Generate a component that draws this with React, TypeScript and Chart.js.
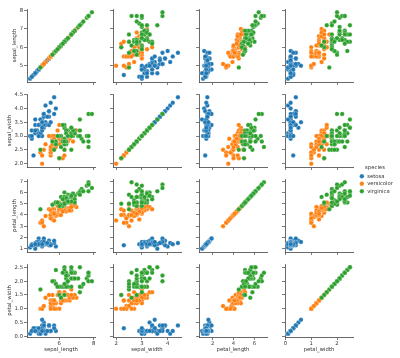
import React, { useEffect, useRef } from "react";
import { Chart, registerables } from "chart.js";
Chart.register(...registerables);

// ---------------- DATA ----------------
const speciesNames = ["setosa", "versicolor", "virginica"];
const speciesColors = ["#1f77b4", "#ff7f0e", "#2ca02c"];
const speciesCounts = [50, 50, 50];
const varNames = ["sepal_length", "sepal_width", "petal_length", "petal_width"];

const sepalLength = [
  5.1, 4.9, 4.7, 4.6, 5.0, 5.4, 4.6, 5.0, 4.4, 4.9, 5.4, 4.8, 4.8, 4.3, 5.8, 5.7, 5.4, 5.1, 5.7, 5.1,
  5.4, 5.1, 4.6, 5.1, 4.8, 5.0, 5.0, 5.2, 5.2, 4.7, 4.8, 5.4, 5.2, 5.5, 4.9, 5.0, 5.5, 4.9, 4.4, 5.1,
  5.0, 4.5, 4.4, 5.0, 5.1, 4.8, 5.1, 4.6, 5.3, 5.0,
  7.0, 6.4, 6.9, 5.5, 6.5, 5.7, 6.3, 4.9, 6.6, 5.2, 5.0, 5.9, 6.0, 6.1, 5.6, 6.7, 5.6, 5.8, 6.2, 5.6,
  5.9, 6.1, 6.3, 6.1, 6.4, 6.6, 6.8, 6.7, 6.0, 5.7, 5.5, 5.5, 5.8, 6.0, 5.4, 6.0, 6.7, 6.3, 5.6, 5.5,
  5.5, 6.1, 5.8, 5.0, 5.6, 5.7, 5.7, 6.2, 5.1, 5.7,
  6.3, 5.8, 7.1, 6.3, 6.5, 7.6, 4.9, 7.3, 6.7, 7.2, 6.5, 6.4, 6.8, 5.7, 5.8, 6.4, 6.5, 7.7, 7.7, 6.0,
  6.9, 5.6, 7.7, 6.3, 6.7, 7.2, 6.2, 6.1, 6.4, 7.2, 7.4, 7.9, 6.4, 6.3, 6.1, 7.7, 6.3, 6.4, 6.0, 6.9,
  6.7, 6.9, 5.8, 6.8, 6.7, 6.7, 6.3, 6.5, 6.2, 5.9,
];
const sepalWidth = [
  3.5, 3.0, 3.2, 3.1, 3.6, 3.9, 3.4, 3.4, 2.9, 3.1, 3.7, 3.4, 3.0, 3.0, 4.0, 4.4, 3.9, 3.5, 3.8, 3.8,
  3.4, 3.7, 3.6, 3.3, 3.4, 3.0, 3.4, 3.5, 3.4, 3.2, 3.1, 3.4, 4.1, 4.2, 3.1, 3.2, 3.5, 3.6, 3.0, 3.4,
  3.5, 2.3, 3.2, 3.5, 3.8, 3.0, 3.8, 3.2, 3.7, 3.3,
  3.2, 3.2, 3.1, 2.3, 2.8, 2.8, 3.3, 2.4, 2.9, 2.7, 2.0, 3.0, 2.2, 2.9, 2.9, 3.1, 3.0, 2.7, 2.2, 2.5,
  3.2, 2.8, 2.5, 2.8, 2.9, 3.0, 2.8, 3.0, 2.9, 2.6, 2.4, 2.4, 2.7, 2.7, 3.0, 3.4, 3.1, 2.3, 3.0, 2.5,
  2.6, 3.0, 2.6, 2.3, 2.7, 3.0, 2.9, 2.9, 2.5, 2.8,
  3.3, 2.7, 3.0, 2.9, 3.0, 3.0, 2.5, 2.9, 2.5, 3.6, 3.2, 2.7, 3.0, 2.5, 2.8, 3.2, 3.0, 3.8, 2.6, 2.2,
  3.2, 2.8, 2.8, 2.7, 3.3, 3.2, 2.8, 3.0, 2.8, 3.0, 2.8, 3.8, 2.8, 2.8, 2.6, 3.0, 3.4, 3.1, 3.0, 3.1,
  3.1, 3.1, 2.7, 3.2, 3.3, 3.0, 2.5, 3.0, 3.4, 3.0,
];
const petalLength = [
  1.4, 1.4, 1.3, 1.5, 1.4, 1.7, 1.4, 1.5, 1.4, 1.5, 1.5, 1.6, 1.4, 1.1, 1.2, 1.5, 1.3, 1.4, 1.7, 1.5,
  1.7, 1.5, 1.0, 1.7, 1.9, 1.6, 1.6, 1.5, 1.4, 1.6, 1.6, 1.5, 1.5, 1.4, 1.5, 1.2, 1.3, 1.4, 1.3, 1.5,
  1.3, 1.3, 1.3, 1.6, 1.9, 1.4, 1.6, 1.4, 1.5, 1.4,
  4.7, 4.5, 4.9, 4.0, 4.6, 4.5, 4.7, 3.3, 4.6, 3.9, 3.5, 4.2, 4.0, 4.7, 3.6, 4.4, 4.5, 4.1, 4.5, 3.9,
  4.8, 4.0, 4.9, 4.7, 4.3, 4.4, 4.8, 5.0, 4.5, 3.5, 3.8, 3.7, 3.9, 5.1, 4.5, 4.5, 4.7, 4.4, 4.1, 4.0,
  4.4, 4.6, 4.0, 3.3, 4.2, 4.2, 4.2, 4.3, 3.0, 4.1,
  6.0, 5.1, 5.9, 5.6, 5.8, 6.6, 4.5, 6.3, 5.8, 6.1, 5.1, 5.3, 5.5, 5.0, 5.1, 5.3, 5.5, 6.7, 6.9, 5.0,
  5.7, 4.9, 6.7, 4.9, 5.7, 6.0, 4.8, 4.9, 5.6, 5.8, 6.1, 6.4, 5.6, 5.1, 5.6, 6.1, 5.6, 5.5, 4.8, 5.4,
  5.6, 5.1, 5.1, 5.9, 5.7, 5.2, 5.0, 5.2, 5.4, 5.1,
];
const petalWidth = [
  0.2, 0.2, 0.2, 0.2, 0.2, 0.4, 0.3, 0.2, 0.2, 0.1, 0.2, 0.2, 0.1, 0.1, 0.2, 0.4, 0.4, 0.3, 0.3, 0.3,
  0.2, 0.4, 0.2, 0.5, 0.2, 0.2, 0.4, 0.2, 0.2, 0.2, 0.2, 0.4, 0.1, 0.2, 0.2, 0.2, 0.2, 0.1, 0.2, 0.2,
  0.3, 0.3, 0.2, 0.6, 0.4, 0.3, 0.2, 0.2, 0.2, 0.2,
  1.4, 1.5, 1.5, 1.3, 1.5, 1.3, 1.6, 1.0, 1.3, 1.4, 1.0, 1.5, 1.0, 1.4, 1.3, 1.4, 1.5, 1.0, 1.5, 1.1,
  1.8, 1.3, 1.5, 1.2, 1.3, 1.4, 1.4, 1.7, 1.5, 1.0, 1.1, 1.0, 1.2, 1.6, 1.5, 1.6, 1.5, 1.3, 1.3, 1.3,
  1.2, 1.4, 1.2, 1.0, 1.3, 1.2, 1.3, 1.3, 1.1, 1.3,
  2.5, 1.9, 2.1, 1.8, 2.2, 2.1, 1.7, 1.8, 1.8, 2.5, 2.0, 1.9, 2.1, 2.0, 2.4, 2.3, 1.8, 2.2, 2.3, 1.5,
  2.3, 2.0, 2.0, 1.8, 2.1, 1.8, 1.8, 1.8, 2.1, 1.6, 1.9, 2.0, 2.2, 1.5, 1.4, 2.3, 2.4, 1.8, 1.8, 2.1,
  2.4, 2.3, 1.9, 2.3, 2.5, 2.3, 1.9, 2.0, 2.3, 1.8,
];
const variables = [sepalLength, sepalWidth, petalLength, petalWidth];

// axis limits (data range + 5% margins) and tick labels
const axisMin = [4.12, 1.88, 0.705, -0.02];
const axisMax = [8.08, 4.52, 7.195, 2.62];
const yTickValues = [
  [5, 6, 7, 8],
  [2.0, 2.5, 3.0, 3.5, 4.0, 4.5],
  [1, 2, 3, 4, 5, 6, 7],
  [0.0, 0.5, 1.0, 1.5, 2.0, 2.5],
];
const yTickDecimals = [0, 1, 0, 1];
const xTickValues = [
  [6, 8],
  [2, 3, 4],
  [2, 4, 6],
  [0, 1, 2],
];

// ---------------- LAYOUT ----------------
const AX_LEFT0 = 27;
const AX_STEP_X = 86;
const AX_TOP0 = 9;
const AX_STEP_Y = 85;
const AX_W = 68;
const AX_H = 73;
const PAD_L = 27;
const PAD_T = 6;
const PAD_R = 6;
const PAD_B = 22;
const FONT = "'DejaVu Sans', sans-serif";
const TEXT_COLOR = "#333";
const SPINE_COLOR = "#444";

function Cell({ row, col }: { row: number; col: number }) {
  const ref = useRef<HTMLCanvasElement | null>(null);
  useEffect(() => {
    if (!ref.current) return;
    let start = 0;
    const n = speciesNames.length;
    const datasets = speciesNames.map((name, s) => {
      const pts: { x: number; y: number }[] = [];
      for (let i = start; i < start + speciesCounts[s]; i++) {
        pts.push({ x: variables[col][i], y: variables[row][i] });
      }
      start += speciesCounts[s];
      return {
        label: name,
        data: pts,
        order: n - 1 - s,
        backgroundColor: speciesColors[s],
        borderColor: "rgba(255,255,255,0.8)",
        borderWidth: 0.35,
        pointRadius: 2.25,
        pointHoverRadius: 2.25,
      };
    });
    const tickFont = { size: 5.3, family: FONT };
    const chart = new Chart(ref.current, {
      type: "scatter",
      data: { datasets },
      options: {
        responsive: false,
        animation: false,
        devicePixelRatio: 1,
        layout: { padding: { left: 0, top: PAD_T, right: PAD_R, bottom: 0 } },
        plugins: { legend: { display: false }, tooltip: { enabled: false } },
        events: [],
        scales: {
          x: {
            type: "linear",
            min: axisMin[col],
            max: axisMax[col],
            afterBuildTicks: (s: any) => {
              s.ticks = xTickValues[col].map((v) => ({ value: v }));
            },
            afterFit: (s: any) => {
              s.height = PAD_B;
            },
            grid: {
              display: true,
              drawOnChartArea: false,
              drawTicks: true,
              tickLength: 3,
              tickColor: SPINE_COLOR,
              tickWidth: 0.7,
            },
            border: { display: true, color: SPINE_COLOR, width: 0.8 },
            ticks: {
              display: row === 3,
              font: tickFont,
              color: TEXT_COLOR,
              padding: 0.5,
              maxRotation: 0,
              autoSkip: false,
              callback: (v: any) => Number(v).toFixed(0),
            },
            title: {
              display: row === 3,
              text: varNames[col],
              font: tickFont,
              color: TEXT_COLOR,
              padding: { top: 0, bottom: 6 },
            },
          },
          y: {
            type: "linear",
            min: axisMin[row],
            max: axisMax[row],
            afterBuildTicks: (s: any) => {
              s.ticks = yTickValues[row].map((v) => ({ value: v }));
            },
            afterFit: (s: any) => {
              s.width = PAD_L;
            },
            grid: {
              display: true,
              drawOnChartArea: false,
              drawTicks: true,
              tickLength: 3,
              tickColor: SPINE_COLOR,
              tickWidth: 0.7,
            },
            border: { display: true, color: SPINE_COLOR, width: 0.8 },
            ticks: {
              display: col === 0,
              font: tickFont,
              color: TEXT_COLOR,
              padding: 1,
              autoSkip: false,
              callback: (v: any) => Number(v).toFixed(yTickDecimals[row]),
            },
            title: {
              display: col === 0,
              text: varNames[row],
              font: tickFont,
              color: TEXT_COLOR,
              padding: { top: yTickDecimals[row] > 0 ? 6.5 : 11.5, bottom: 0 },
            },
          },
        },
      } as any,
    });
    return () => chart.destroy();
  }, [row, col]);
  const w = PAD_L + AX_W + PAD_R;
  const h = PAD_T + AX_H + PAD_B;
  return (
    <canvas
      ref={ref}
      width={w}
      height={h}
      style={{
        position: "absolute",
        left: AX_LEFT0 + col * AX_STEP_X - PAD_L,
        top: AX_TOP0 + row * AX_STEP_Y - PAD_T,
        width: w,
        height: h,
      }}
    />
  );
}

function Legend() {
  const ref = useRef<HTMLCanvasElement | null>(null);
  useEffect(() => {
    if (!ref.current) return;
    const chart = new Chart(ref.current, {
      type: "scatter",
      data: {
        datasets: speciesNames.map((name, s) => ({
          label: name,
          data: [],
          backgroundColor: speciesColors[s],
          borderColor: "rgba(255,255,255,0.8)",
          borderWidth: 0.35,
        })),
      },
      options: {
        responsive: false,
        animation: false,
        devicePixelRatio: 1,
        events: [],
        layout: { padding: 0 },
        scales: { x: { display: false }, y: { display: false } },
        plugins: {
          tooltip: { enabled: false },
          legend: {
            display: true,
            position: "top",
            align: "start",
            title: {
              display: true,
              text: "species",
              color: TEXT_COLOR,
              font: { size: 5.3, family: FONT },
              padding: { top: 0, bottom: 0 },
            },
            labels: {
              usePointStyle: true,
              pointStyle: "circle",
              boxWidth: 5.3,
              boxHeight: 3.2,
              padding: 2.2,
              color: TEXT_COLOR,
              font: { size: 5.3, family: FONT },
            },
          },
        },
      } as any,
    });
    return () => chart.destroy();
  }, []);
  return (
    <canvas
      ref={ref}
      width={40}
      height={90}
      style={{ position: "absolute", left: 357, top: 165, width: 40, height: 90 }}
    />
  );
}

export default function App() {
  const cells = [];
  for (let r = 0; r < 4; r++) for (let c = 0; c < 4; c++) cells.push(<Cell key={`${r}-${c}`} row={r} col={c} />);
  return (
    <div style={{ position: "fixed", left: 0, top: 0, width: 400, height: 358, background: "#fff", overflow: "hidden" }}>
      {cells}
      <Legend />
    </div>
  );
}
